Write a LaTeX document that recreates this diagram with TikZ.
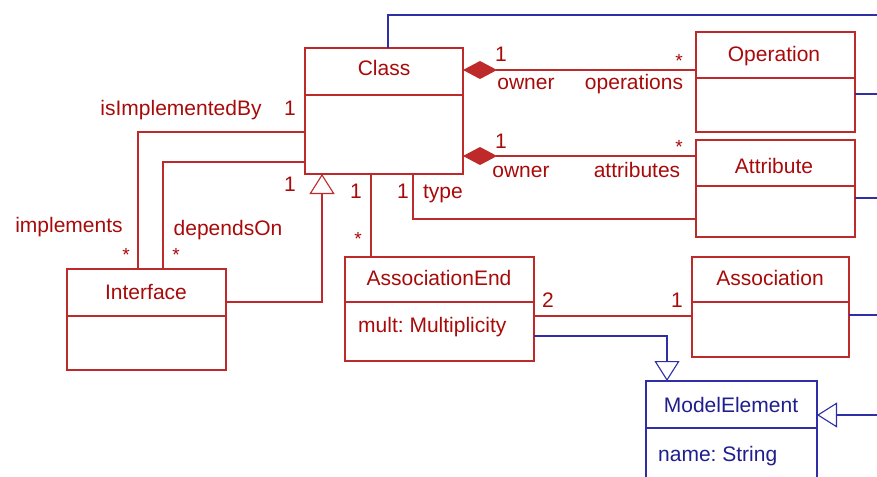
\documentclass[tikz,border=0pt]{standalone}
\usepackage{fontspec}
\setmainfont{Liberation Sans}
\usetikzlibrary{arrows.meta}
\definecolor{rline}{HTML}{BE2A2A}
\definecolor{rtext}{HTML}{A80A0A}
\definecolor{bline}{HTML}{2E2EA6}
\definecolor{btext}{HTML}{1E1E8C}
\frenchspacing
\begin{document}
\begin{tikzpicture}[x=1pt,y=-1pt,
  font=\fontsize{21}{24}\selectfont,
  rbox/.style={draw=rline,line width=1.1pt,anchor=north west,inner sep=0pt,outer sep=0pt},
  bbox/.style={draw=bline,line width=1.1pt,anchor=north west,inner sep=0pt,outer sep=0pt},
  rl/.style={draw=rline,line width=1.1pt},
  bl/.style={draw=bline,line width=1.1pt},
  rt/.style={text=rtext,inner sep=0pt,anchor=base},
  bt/.style={text=btext,inner sep=0pt,anchor=base},
  star/.style={text=rtext,inner sep=0pt,anchor=center,font=\fontsize{19}{20}\selectfont},
  comp/.style={{Diamond[length=34pt,width=18pt,fill=rline]}-},
  gen/.style={-{Triangle[open,length=20pt,width=25pt,fill=white]}},
]
\useasboundingbox (0,0) rectangle (877,476);
\begin{scope}
\clip (0,0) rectangle (877,476);
% boxes
\node[rbox,minimum width=158pt,minimum height=126pt] (class) at (305,48) {};
\draw[rl] (class.west |- 0,95) -- (class.east |- 0,95);
\node[rbox,minimum width=159pt,minimum height=100pt] (oper) at (696,32) {};
\draw[rl] (oper.west |- 0,78) -- (oper.east |- 0,78);
\node[rbox,minimum width=159pt,minimum height=97pt] (attr) at (696,140) {};
\draw[rl] (attr.west |- 0,186) -- (attr.east |- 0,186);
\node[rbox,minimum width=159pt,minimum height=101pt] (iface) at (67,269) {};
\draw[rl] (iface.west |- 0,316) -- (iface.east |- 0,316);
\node[rbox,minimum width=189pt,minimum height=104pt] (aend) at (345,257) {};
\draw[rl] (aend.west |- 0,302) -- (aend.east |- 0,302);
\node[rbox,minimum width=157pt,minimum height=100pt] (assoc) at (692,257) {};
\draw[rl] (assoc.west |- 0,302) -- (assoc.east |- 0,302);
\node[bbox,minimum width=171pt,minimum height=110pt] (model) at (646,381) {};
\draw[bl] (model.west |- 0,428) -- (model.east |- 0,428);
% box texts
\node[rt] (tclass) at (384,76) {Class};
\node[rt] (toper) at (774,62) {Operation};
\node[rt] (tattr) at (774,173) {Attribute};
\node[rt] (tiface) at (146,299) {Interface};
\node[rt] (taend) at (439,285) {AssociationEnd};
\node[rt] (tassoc) at (770,285) {Association};
\node[bt] (tmodel) at (731,412) {ModelElement};
\node[rt,anchor=base west] (tmult) at (358,332) {mult: Multiplicity};
\node[bt,anchor=base west] (tname) at (658,461) {name: String};
% free ends
\coordinate (e1) at (877,15);
\coordinate (e2) at (877,94);
\coordinate (e3) at (877,198);
\coordinate (e4) at (877,315);
\coordinate (e5) at (877,415);
% blue connectors
\draw[bl] (class.north -| 388,0) |- (e1);
\draw[bl] (oper.east |- e2) -- (e2);
\draw[bl] (attr.east |- e3) -- (e3);
\draw[bl] (assoc.east |- e4) -- (e4);
\draw[bl,gen] (e5) -- (model.east |- e5);
\draw[bl,gen] (aend.east |- 0,336) -| (model.north -| 667,0);
% red connectors
\draw[rl,comp] (class.east |- 0,70) -- (oper.west |- 0,70);
\draw[rl,comp] (class.east |- 0,156) -- (attr.west |- 0,156);
\draw[rl] (class.south -| 413,0) |- (attr.west |- 0,219);
\draw[rl] (class.south -| 371,0) -- (aend.north -| 371,0);
\draw[rl,gen] (iface.east |- 0,302) -| (class.south -| 322,0);
\draw[rl] (class.west |- 0,132) -| (iface.north -| 138,0);
\draw[rl] (class.west |- 0,162) -| (iface.north -| 163,0);
\draw[rl] (aend.east |- 0,316) -- (assoc.west |- 0,316);
% labels
\node[rt] (l1) at (501,62) {1};
\node[star] (l2) at (679,61) {*};
\node[rt] (l3) at (526,90) {owner};
\node[rt] (l4) at (634,90) {operations};
\node[rt] (l5) at (501,148) {1};
\node[star] (l6) at (679,147) {*};
\node[rt] (l7) at (521,177) {owner};
\node[rt] (l8) at (637,177) {attributes};
\node[rt] (l9) at (181,115) {isImplementedBy};
\node[rt] (l10) at (290,115) {1};
\node[rt] (l11) at (290,191) {1};
\node[rt] (l12) at (356,198) {1};
\node[rt] (l13) at (403,198) {1};
\node[rt] (l14) at (443,198) {type};
\node[star] (l15) at (358,239) {*};
\node[rt] (l16) at (69,232) {implements};
\node[star] (l17) at (126,255) {*};
\node[rt] (l18) at (228,235) {dependsOn};
\node[star] (l19) at (176,255) {*};
\node[rt] (l20) at (548,307) {2};
\node[rt] (l21) at (677,307) {1};
\end{scope}
\end{tikzpicture}
\end{document}
